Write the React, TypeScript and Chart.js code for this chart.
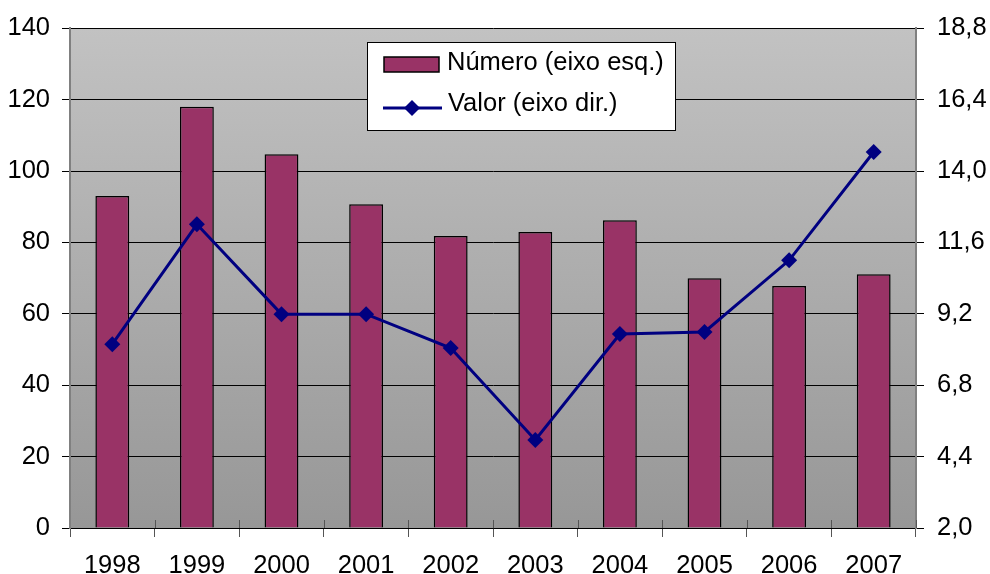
import React, { useEffect, useRef } from "react";
import { Chart, registerables } from "chart.js";

Chart.register(...registerables);

const categories = ["1998", "1999", "2000", "2001", "2002", "2003", "2004", "2005", "2006", "2007"];
const numeroValues = [93, 118, 104.7, 90.7, 81.8, 82.9, 86.2, 70, 67.8, 71.1];
const valorValues = [8.18, 12.21, 9.19, 9.19, 8.05, 4.96, 8.52, 8.59, 11.0, 14.64];
const leftTicks = [0, 20, 40, 60, 80, 100, 120, 140];
const rightTicks = [2.0, 4.4, 6.8, 9.2, 11.6, 14.0, 16.4, 18.8];
const legendLabels = ["Número (eixo esq.)", "Valor (eixo dir.)"];

const FONT = "'Liberation Sans', Arial, sans-serif";
const FS = 25.5;
const BAR_COLOR = "#993366";
const LINE_COLOR = "#000080";

const bgPlugin = {
  id: "bgGradient",
  beforeDraw(chart: any) {
    const { ctx, chartArea } = chart;
    if (!chartArea) return;
    const g = ctx.createLinearGradient(0, chartArea.top, 0, chartArea.bottom);
    g.addColorStop(0, "#c2c2c2");
    g.addColorStop(1, "#979797");
    ctx.save();
    ctx.fillStyle = g;
    ctx.fillRect(chartArea.left, chartArea.top, chartArea.right - chartArea.left, chartArea.bottom - chartArea.top);
    ctx.restore();
  },
  afterDraw(chart: any) {
    const { ctx, chartArea } = chart;
    ctx.save();
    // inner category tick marks
    ctx.strokeStyle = "#555555";
    ctx.lineWidth = 1;
    const n = categories.length;
    const w = (chartArea.right - chartArea.left) / n;
    for (let i = 1; i <= n; i++) {
      const x = Math.round(chartArea.left + i * w) + 0.5;
      ctx.beginPath();
      ctx.moveTo(x, chartArea.bottom - 8);
      ctx.lineTo(x, chartArea.bottom);
      ctx.stroke();
    }
    // legend
    const lx = 367, ly = 42, lw = 308, lh = 88;
    ctx.fillStyle = "#ffffff";
    ctx.fillRect(lx, ly, lw, lh);
    ctx.strokeStyle = "#000000";
    ctx.lineWidth = 1;
    ctx.strokeRect(lx + 0.5, ly + 0.5, lw, lh);
    // bar swatch
    ctx.fillStyle = BAR_COLOR;
    ctx.fillRect(384, 57, 55, 15);
    ctx.lineWidth = 1.5;
    ctx.strokeRect(384, 57, 55, 15);
    // line swatch
    ctx.strokeStyle = LINE_COLOR;
    ctx.lineWidth = 3;
    ctx.beginPath();
    ctx.moveTo(383, 108);
    ctx.lineTo(442, 108);
    ctx.stroke();
    ctx.fillStyle = LINE_COLOR;
    ctx.beginPath();
    ctx.moveTo(412, 100);
    ctx.lineTo(420, 108);
    ctx.lineTo(412, 116);
    ctx.lineTo(404, 108);
    ctx.closePath();
    ctx.fill();
    ctx.fillStyle = "#000000";
    ctx.font = `${FS}px ${FONT}`;
    ctx.textBaseline = "middle";
    ctx.textAlign = "left";
    ctx.fillText(legendLabels[0], 447, 63);
    ctx.fillText(legendLabels[1], 448, 104);
    ctx.restore();
  },
};

export default function App() {
  const ref = useRef<HTMLCanvasElement>(null);
  useEffect(() => {
    document.body.style.margin = "0";
    const chart = new Chart(ref.current!, {
      type: "bar",
      data: {
        labels: categories,
        datasets: [
          {
            type: "line",
            label: legendLabels[1],
            data: valorValues,
            yAxisID: "y2",
            borderColor: LINE_COLOR,
            backgroundColor: LINE_COLOR,
            borderWidth: 3,
            pointStyle: "rectRot",
            pointRadius: 8,
            pointBackgroundColor: LINE_COLOR,
            pointBorderWidth: 0,
            tension: 0,
            order: 0,
          } as any,
          {
            type: "bar",
            label: legendLabels[0],
            data: numeroValues,
            yAxisID: "y",
            backgroundColor: BAR_COLOR,
            borderColor: "#000000",
            borderWidth: 1.5,
            categoryPercentage: 1,
            barPercentage: 0.4,
            order: 1,
          },
        ],
      },
      options: {
        responsive: false,
        animation: false,
        layout: { padding: { top: 28, left: 0, right: 0, bottom: 0 } },
        plugins: { legend: { display: false }, tooltip: { enabled: false } },
        scales: {
          x: {
            offset: true,
            grid: {
              offset: true,
              drawOnChartArea: false,
              drawTicks: true,
              tickLength: 9,
              color: "#555555",
            },
            border: { color: "#000000", width: 1 },
            ticks: { font: { size: FS, family: FONT }, color: "#000000", padding: 14, maxRotation: 0 },
            afterFit(scale: any) {
              scale.height = 46;
            },
          },
          y: {
            position: "left",
            min: 0,
            max: 140,
            afterBuildTicks(scale: any) {
              scale.ticks = leftTicks.map((v) => ({ value: v }));
            },
            grid: { color: "#000000", lineWidth: 1, tickLength: 8 },
            border: { color: "#808080", width: 2 },
            ticks: { font: { size: FS, family: FONT }, color: "#000000", padding: 12 },
            afterFit(scale: any) {
              scale.width = 70;
            },
          },
          y2: {
            position: "right",
            min: 2,
            max: 18.8,
            afterBuildTicks(scale: any) {
              scale.ticks = rightTicks.map((v) => ({ value: v }));
            },
            grid: { drawOnChartArea: false, color: "#000000", tickLength: 8 },
            border: { color: "#808080", width: 2 },
            ticks: {
              font: { size: FS, family: FONT },
              color: "#000000",
              padding: 13,
              callback: (v: any) => Number(v).toFixed(1).replace(".", ","),
            },
            afterFit(scale: any) {
              scale.width = 74;
            },
          },
        },
      },
      plugins: [bgPlugin],
    });
    return () => chart.destroy();
  }, []);
  return (
    <div style={{ position: "absolute", left: 0, top: 0, width: 990, height: 574 }}>
      <canvas ref={ref} width={990} height={574} />
    </div>
  );
}
